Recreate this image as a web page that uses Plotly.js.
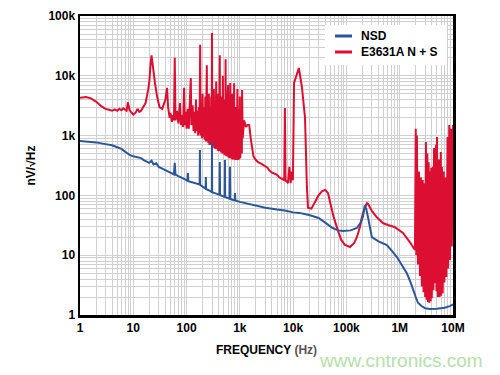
<!DOCTYPE html>
<html>
<head>
<meta charset="utf-8">
<script src="https://cdn.plot.ly/plotly-3.0.1.min.js"></script>
<style>html,body{margin:0;padding:0;background:#fff;}#chart{width:500px;height:375px;}</style>
</head>
<body>
<div id="chart"></div>
<script>
// ---- data ----
const seriesNames = ['NSD', 'E3631A N + S'];

const nsdFreq = [1,1.5,2,3,4,5,6,7,8.7,10,12,14,16,18,20,22,24,27,30,35,40,45,50,55,58,60,62,70,80,90,100,104,106,108,130,150,170,176,178,180,200,220,228,230,232,260,290,298,300,302,350,400,415,420,425,500,520,525,530,600,640,650,660,750,800,810,820,1000,1500,2000,3000,5000,7000,10000,13000,20000,30000,40000,55000,70000,86000,120000,157000,185000,204000,222000,235000,253000,275000,300000,400000,575000,700000,885000,1100000,1360000,1600000,1780000,2000000,2200000,2600000,3000000,3700000,5000000,6000000,7000000,8700000,10000000];
const nsdVal  = [810,790,770,720,690,640,600,540,470,450,430,420,385,365,350,380,330,345,300,280,265,255,240,230,225,350,222,210,200,190,180,175,236,172,165,160,155,152,575,150,140,132,130,203,128,122,115,114,785,113,108,103,102,360,101,96,95,390,94,90,88,300,87,84,83,110,82,78,72,68,62,58,56,52,51,47,42,35,28.5,26,25.4,26,28.5,35,44,69,60,44,28,20,17,14.8,12,9.3,6.8,5,3.5,2.6,2,1.6,1.4,1.3,1.26,1.27,1.3,1.32,1.41,1.5];

const e3631Freq = [1,1.3,1.6,2,2.5,3,3.5,4,4.5,5,5.5,6,6.5,7,7.5,7.9,8.5,9,10,11,12,13,14,15,17,19,20,21,22,23,24,25.5,28,31,35,38,40,43,45,48,50,53,56,58,60,62,66,70,75,78,82,86,90,93,97,100,105,110,115,120,123,130,135,140,145,150,155,160,165,170,175,180,183,190,195,200,205,212,218,225,230,240,244,250,256,262,268,275,282,290,296,300,304,310,318,325,332,340,348,360,366,375,385,395,405,420,425,435,445,460,470,480,488,500,510,525,533,540,546,560,572,585,595,600,608,625,640,660,668,690,705,720,730,750,765,780,790,810,825,850,870,900,915,950,970,1000,1020,1060,1090,1100,1130,1200,1300,1400,1500,1600,1700,1800,2000,2200,2500,2800,3000,3300,3600,4000,4500,5000,5500,6000,6500,6800,7000,7200,7600,8000,8500,9000,9400,9900,10400,11800,12800,14600,16700,18100,19000,22000,25000,30000,35000,40000,45000,50000,57000,69000,80000,94000,117000,140000,157000,180000,195000,220000,243000,260000,300000,372000,484000,600000,800000,1150000,1550000,1930000,2000000,2050000,2100000,2200000,2300000,2400000,2500000,2600000,2700000,2800000,2900000,3000000,3100000,3200000,3300000,3400000,3500000,3600000,3700000,3800000,3900000,4000000,4200000,4300000,4400000,4600000,4800000,4900000,5000000,5200000,5400000,5600000,5900000,6000000,6200000,6400000,6700000,6900000,7200000,7500000,7900000,8100000,8500000,8800000,9200000,9500000,10000000];
const e3631Val  = [4300,4400,4200,3700,3100,2800,2700,2600,2750,2600,2800,2650,2850,2700,2600,3600,2700,2500,2250,2400,2800,2500,2600,2900,3500,5800,8000,15000,22000,16000,11000,7600,4500,3000,2800,3500,4000,6300,3000,2000,2400,1700,2200,1800,20000,1800,2600,1600,3500,1500,2200,1400,6300,1500,2500,1300,2800,1300,3000,9200,1500,3200,1200,2500,1100,4000,1200,2600,1000,3000,1100,33000,1000,3500,900,5000,950,3000,850,4500,800,15000,800,3500,750,5000,700,3000,700,4500,750,52000,700,3500,650,6000,620,3800,600,8000,600,4000,560,5000,550,22000,550,3500,520,4500,500,10000,500,3500,480,4000,470,19000,460,3200,450,3800,440,7000,430,3000,420,7600,420,2800,410,5000,400,2600,400,7500,400,2500,390,3000,390,6000,390,2800,400,4500,420,2500,500,5800,900,1800,1400,1500,1500,900,600,450,390,360,340,320,300,290,260,240,230,220,200,190,185,180,2900,180,170,160,300,160,250,180,7600,11000,13500,6500,2000,140,62,60,75,100,118,123,110,75,45,26,18,14.8,13.7,16,20,30,43,62,74,70,55,43,34.5,32,29.6,23.5,16.6,12.2,1300,10,1000,7,250,4.5,200,3,180,2.4,160,2,780,1.8,500,1.65,360,1.6,250,1.7,290,1.9,300,2.6,620,3.4,700,2.5,950,2,400,2,530,2.1,300,2.3,250,3.5,200,4.3,950,6,1500,8.3,1300,14,1500];

const xTickLabels = ['1','10','100','1k','10k','100k','1M','10M'];
const yTickLabels = ['1','10','100','1k','10k','100k'];
const xTitle = 'FREQUENCY <span style="color:#555">(Hz)</span>';
const yTitle = 'nV/√Hz';
const watermark = 'www.cntronics.com';

// ---- axis ticks: every 1..9 x decade gets a grid line, only decades get a label ----
function logTicks(labels) {
  const vals = [], text = [];
  for (let d = 0; d < labels.length; d++) {
    const base = Math.pow(10, d);
    vals.push(base); text.push(labels[d]);
    if (d < labels.length - 1) {
      for (let m = 2; m <= 9; m++) { vals.push(m * base); text.push(''); }
    }
  }
  return {vals, text};
}
const xt = logTicks(xTickLabels);
const yt = logTicks(yTickLabels);

const RED = '#dc0f32', BLUE = '#2b5799';
const FONT = 'Liberation Sans, Arial, Helvetica, sans-serif';

const traces = [
  {x: e3631Freq, y: e3631Val, name: seriesNames[1], type: 'scatter', mode: 'lines',
   line: {color: RED, width: 2}},
  {x: nsdFreq, y: nsdVal, name: seriesNames[0], type: 'scatter', mode: 'lines',
   line: {color: BLUE, width: 2}}
];

// px -> paper helpers for the plot area (80..453 x, 16..315 y)
const PL = 80, PR = 453, PT = 16, PB = 315;
const px = v => (v - PL) / (PR - PL);
const py = v => (PB - v) / (PB - PT);

const layout = {
  width: 500, height: 375,
  margin: {l: PL, r: 500 - PR, t: PT, b: 375 - PB},
  paper_bgcolor: '#fff', plot_bgcolor: '#fff',
  showlegend: false,
  font: {family: FONT, size: 12, color: '#000', weight: 'bold'},
  xaxis: {type: 'log', range: [0, 7], tickmode: 'array', tickvals: xt.vals, ticktext: xt.text,
          showgrid: true, gridcolor: '#d0d0d0', gridwidth: 1, ticks: '', zeroline: false,
          showline: true, linecolor: '#000', linewidth: 2.5, mirror: true,
          tickfont: {family: FONT, size: 12, weight: 'bold', color: '#000'},
          title: {text: xTitle, standoff: 12, font: {family: FONT, size: 12, weight: 'bold', color: '#000'}}},
  yaxis: {type: 'log', range: [0, 5], tickmode: 'array', tickvals: yt.vals, ticktext: yt.text,
          showgrid: true, gridcolor: '#d0d0d0', gridwidth: 1, ticks: '', zeroline: false,
          showline: true, linecolor: '#000', linewidth: 2.5, mirror: true,
          tickfont: {family: FONT, size: 12, weight: 'bold', color: '#000'},
          title: {text: yTitle, standoff: 10, font: {family: FONT, size: 12, weight: 'bold', color: '#000'}}},
  shapes: [
    {type: 'rect', xref: 'paper', yref: 'paper', x0: px(325), x1: px(447), y0: py(65), y1: py(25),
     fillcolor: '#fff', line: {width: 0}, layer: 'above'},
    {type: 'line', xref: 'paper', yref: 'paper', x0: px(335), x1: px(352), y0: py(36), y1: py(36),
     line: {color: BLUE, width: 3}, layer: 'above'},
    {type: 'line', xref: 'paper', yref: 'paper', x0: px(335), x1: px(352), y0: py(52), y1: py(52),
     line: {color: RED, width: 3}, layer: 'above'}
  ],
  annotations: [
    {xref: 'paper', yref: 'paper', x: px(359), y: py(36), xanchor: 'left', yanchor: 'middle',
     text: seriesNames[0], showarrow: false, font: {family: FONT, size: 12, weight: 'bold', color: '#000'}},
    {xref: 'paper', yref: 'paper', x: px(359), y: py(52), xanchor: 'left', yanchor: 'middle',
     text: seriesNames[1], showarrow: false, font: {family: FONT, size: 12, weight: 'bold', color: '#000'}},
    {xref: 'paper', yref: 'paper', x: px(317), y: py(360), xanchor: 'left', yanchor: 'middle',
     text: watermark, showarrow: false, font: {family: FONT, size: 19, weight: 'normal', color: '#b4e0ab'}}
  ]
};

Plotly.newPlot('chart', traces, layout, {staticPlot: true, displayModeBar: false});
</script>
</body>
</html>
